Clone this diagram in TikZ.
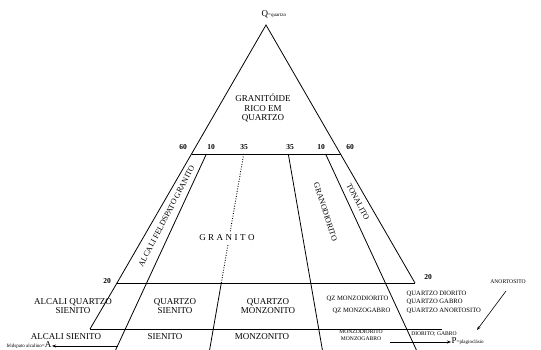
\documentclass[tikz,border=0pt]{standalone}
\usepackage{fontspec}
\setmainfont{Liberation Serif}
\usetikzlibrary{arrows.meta,calc}
\begin{document}
\begin{tikzpicture}[x=1pt,y=-1pt,
  ln/.style={line width=0.8pt,black},
  dotln/.style={line width=0.9pt,dash pattern=on 0.9pt off 1.6pt},
  arr/.style={line width=0.6pt,-{Stealth[length=4pt,width=3pt]}},
  big/.style={font=\fontsize{9}{9.8}\selectfont,inner sep=0.5pt,align=center},
  rot/.style={font=\fontsize{8}{8.5}\selectfont,inner sep=0pt},
  mid/.style={font=\fontsize{6.6}{8.5}\selectfont,inner sep=0.5pt},
  sml/.style={font=\fontsize{5.6}{7.2}\selectfont,inner sep=0.5pt,align=center},
  num/.style={font=\fontsize{7.5}{8}\selectfont\bfseries,inner sep=0.5pt}]
\useasboundingbox (0,0) rectangle (541,350);
% frame points
\coordinate (Q) at (266,25);
\coordinate (L60) at (191.5,154);
\coordinate (R60) at (340.5,154);
\coordinate (L20) at (117,283);
\coordinate (R20) at (415,283);
\coordinate (L5) at (90,329);
\coordinate (R5) at (442,329);
\coordinate (a60) at (206.4,154);
\coordinate (ab) at (115.6,350);
\coordinate (b60) at (243.7,154);
\coordinate (b20) at (221.3,283);
\coordinate (bb) at (209.6,350);
\coordinate (c60) at (288.3,154);
\coordinate (cb) at (322.4,350);
\coordinate (d60) at (325.6,154);
\coordinate (db) at (416.4,350);
% triangle and lines
\draw[ln] (L20) -- (Q) -- (R20);
\draw[ln] (L20) -- (L5);
\draw[ln] (L60) -- (R60);
\draw[ln] (L20) -- (R20);
\draw[ln] (L5) -- (R5);
\draw[ln] (a60) -- (ab);
\draw[dotln] (b60) -- (b20);
\draw[ln] (b20) -- (bb);
\draw[ln] (c60) -- (cb);
\draw[ln] (d60) -- (db);
% labels
\node[anchor=west,inner sep=0.5pt] (qlbl) at (261,14) {{\fontsize{9}{9}\selectfont Q}{\fontsize{5}{5}\selectfont=quartzo}};
\node[big] (gtoide) at (263,108) {GRANITÓIDE\\RICO EM\\QUARTZO};
\node[num] (n60l) at (183,147) {60};
\node[num] (n10l) at (211,147) {10};
\node[num] (n35l) at (244,147) {35};
\node[num] (n35r) at (290,147) {35};
\node[num] (n10r) at (321,147) {10};
\node[num] (n60r) at (350,147) {60};
\node[num] (n20l) at (107,281) {20};
\node[num] (n20r) at (428,277) {20};
\node[rot,rotate=62.5] (afg) at (166.5,216) {ALCALI FELDSPATO GRANITO};
\node[rot,rotate=-72] (gdio) at (325.5,212) {GRANODIORITO};
\node[rot,rotate=-62] (tona) at (358,202) {TONALITO};
\node[big,fill=white,inner sep=3pt] (gran) at (227,238) {G\kern2.5ptR\kern2.5ptA\kern2.5ptN\kern2.5ptI\kern2.5ptT\kern2.5ptO};
\node[big] (aqs) at (73,306) {ALCALI QUARTZO\\SIENITO};
\node[big] (qs) at (175,306) {QUARTZO\\SIENITO};
\node[big] (qm) at (268,306) {QUARTZO\\MONZONITO};
\node[mid,anchor=east] (qzmd) at (389,299) {QZ MONZODIORITO};
\node[mid,anchor=east] (qzmg) at (391,311) {QZ MONZOGABRO};
\node[mid,anchor=west,align=left] (qdio) at (406,302) {QUARTZO DIORITO\\QUARTZO GABRO\\QUARTZO ANORTOSITO};
\node[big] (as) at (66,337) {ALCALI SIENITO};
\node[big] (s) at (165,337) {SIENITO};
\node[big] (m) at (262,337) {MONZONITO};
\node[sml] (md) at (361,335) {MONZODIORITO\\MONZOGABRO};
\node[sml] (dg) at (434,334) {DIORITO; GABRO};
\node[sml] (anor) at (508,282) {ANORTOSITO};
\node[anchor=east,inner sep=0.5pt] (A) at (52,345) {{\fontsize{5}{5}\selectfont feldspato alcalino=}{\fontsize{9}{9}\selectfont A}};
\node[anchor=west,inner sep=0.5pt] (P) at (451,341) {{\fontsize{9}{9}\selectfont P}{\fontsize{5}{5}\selectfont=plagioclásio}};
% arrows
\coordinate (abase) at (118,346);
\coordinate (pbase) at (390,342);
\coordinate (anorst) at (506,291);
\coordinate (anoren) at (477,330);
\draw[arr] (abase) -- (A.east |- abase);
\draw[arr] (pbase) -- (P.west |- pbase);
\draw[arr] (anorst) -- (anoren);
\end{tikzpicture}
\end{document}
